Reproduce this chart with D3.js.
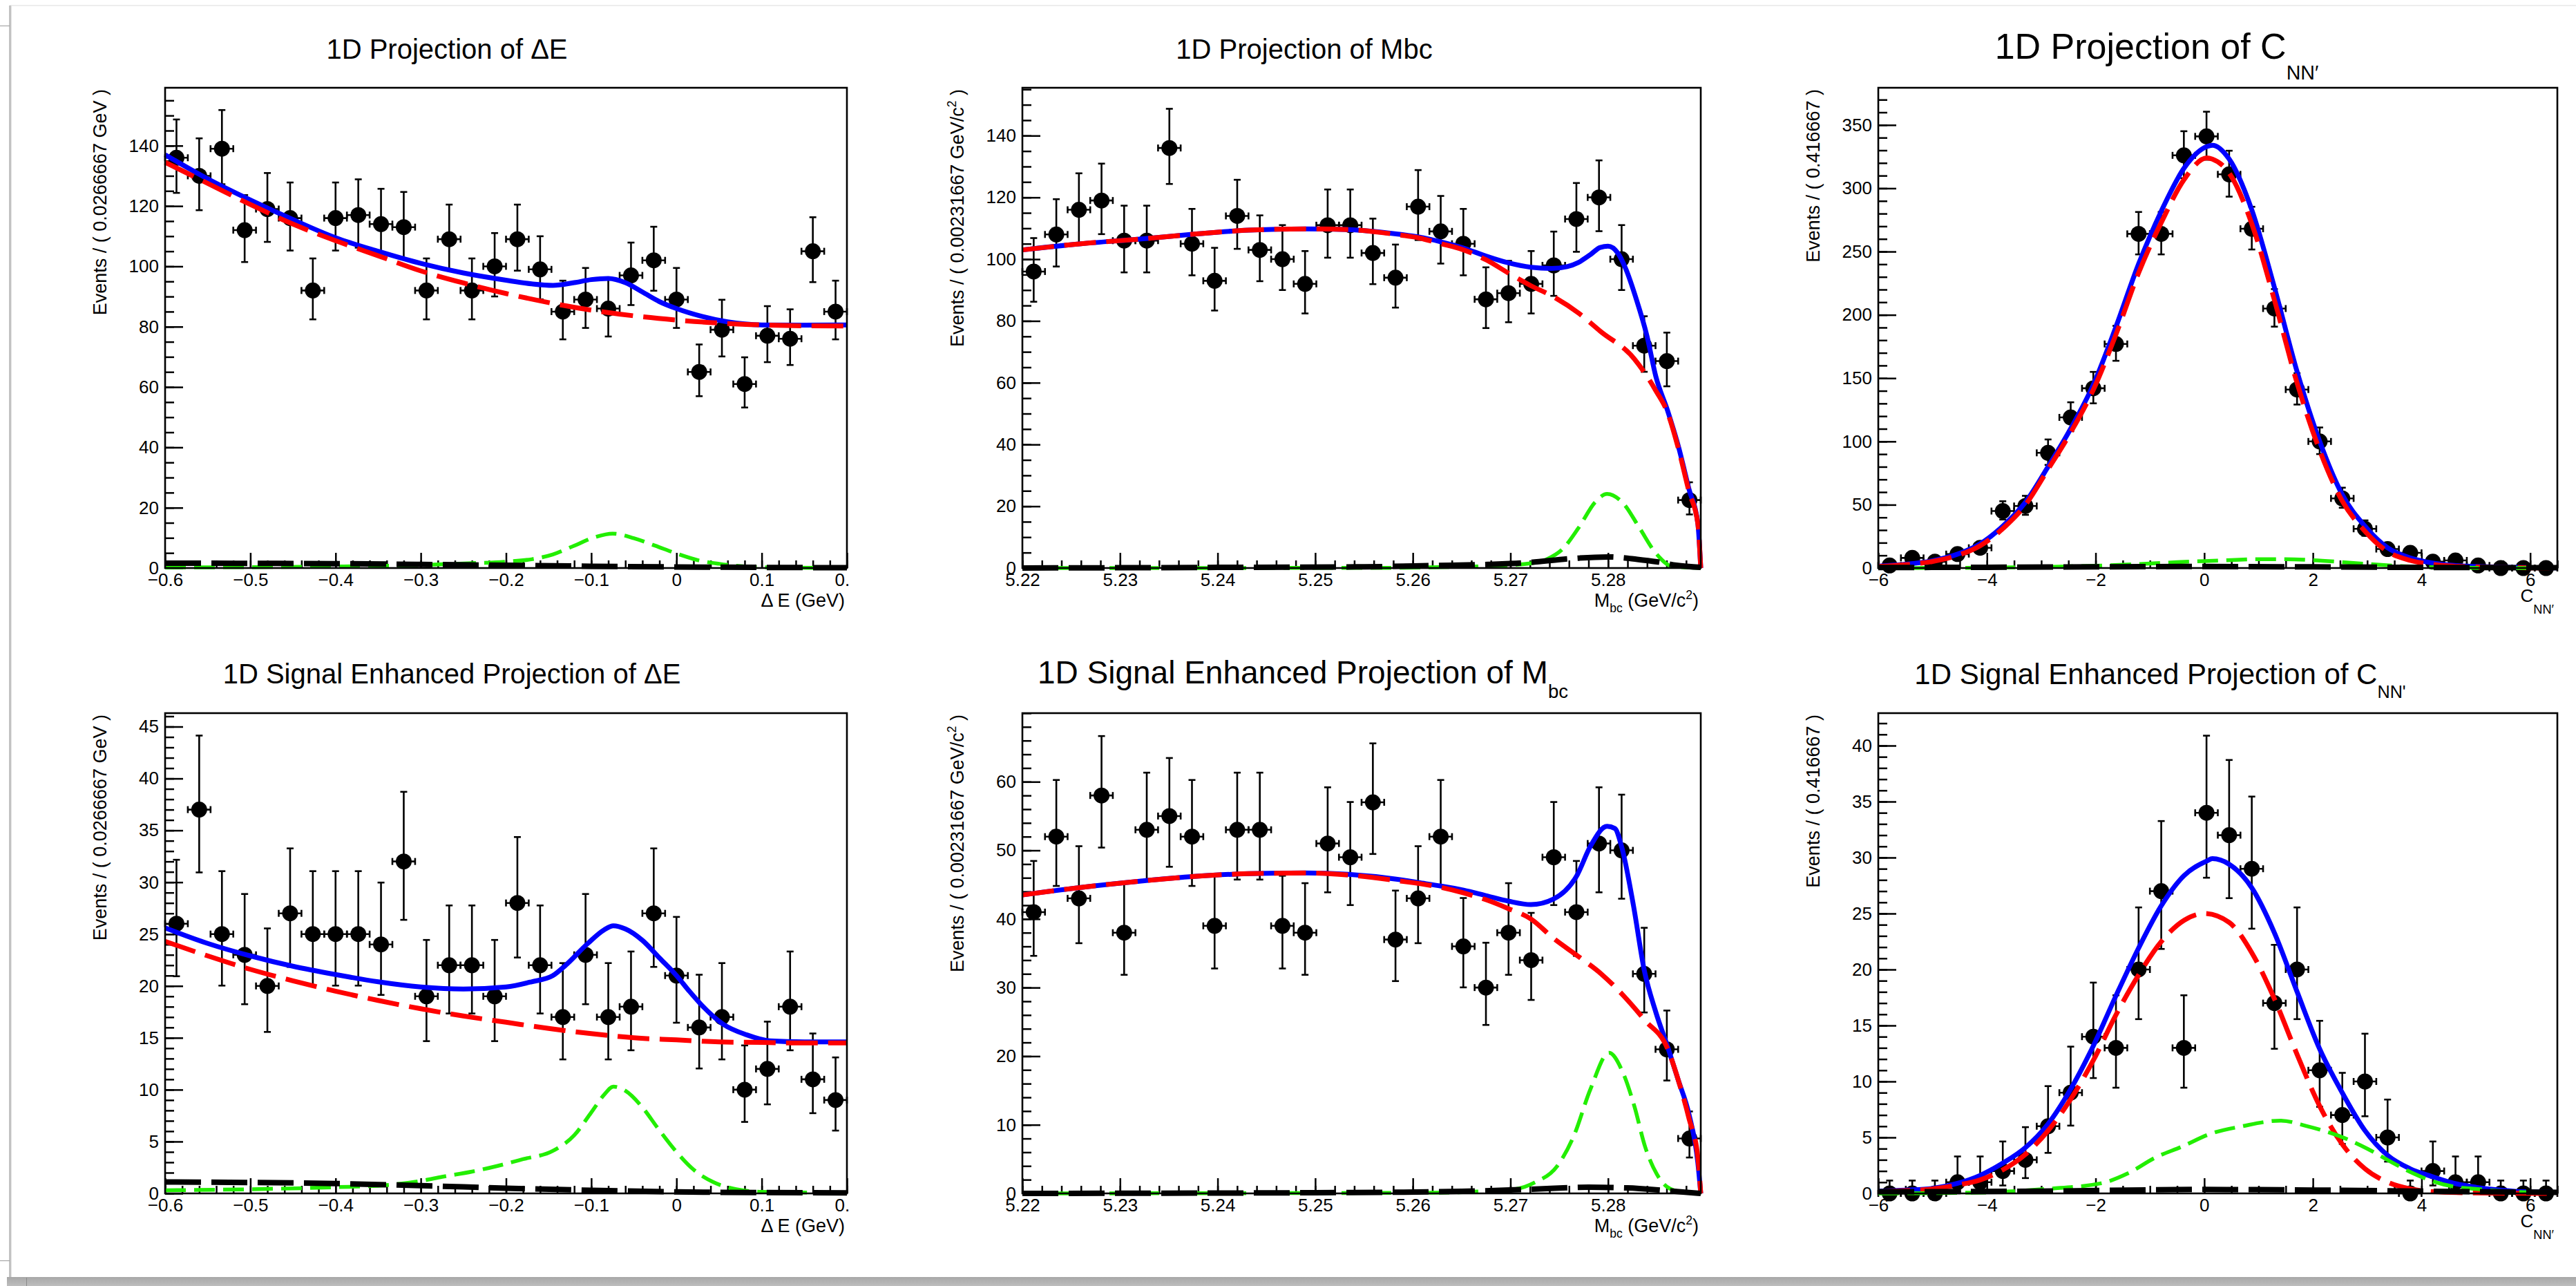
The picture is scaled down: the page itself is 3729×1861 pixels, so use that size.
<!DOCTYPE html>
<html>
<head>
<meta charset="utf-8">
<title>Fit projections: ΔE, Mbc, C_NN'</title>
<script src="https://cdn.jsdelivr.net/npm/d3@7/dist/d3.min.js"></script>
<style>
  html, body { margin: 0; padding: 0; background: #fff; }
  svg { display: block; }
  text { font-family: "Liberation Sans", Arial, Helvetica, sans-serif; fill: #000; white-space: pre; }
</style>
</head>
<body>
<svg id="chart" width="3729" height="1861"></svg>
<script>
// ---------- Binned event counts (30 bins each) ----------
const deCounts     = [136,130,139,112,119,116,92,116,117,114,113,92,109,92,100,109,99,85,89,86,97,102,89,65,79,61,77,76,105,85];
const mbcCounts    = [96,108,116,119,106,106,136,105,93,114,103,100,92,111,111,102,94,117,109,105,87,89,92,98,113,120,100,72,67,22];
const cnnCounts    = [2,8,5,11,16,45,49,91,119,142,177,264,264,326,341,311,268,205,141,100,55,31,15,12,5,6,2,0,0,0];
const deSigCounts  = [26,37,25,23,20,27,25,25,25,24,32,19,22,22,19,28,22,17,23,17,18,27,21,16,17,10,12,18,11,9];
const mbcSigCounts = [41,52,43,58,38,53,55,52,39,53,53,39,38,51,49,57,37,43,52,36,30,38,34,49,41,51,50,32,21,8];
const cnnSigCounts = [0,0,0,1,1,2,3,6,9,14,13,20,27,13,34,32,29,17,20,11,7,10,5,0,2,1,1,0,0,0];

// ---------- Fit curves, [x, events / bin] ----------
// Delta E, full sample
const deTotal = [[-0.6,137],[-0.55,129],[-0.5,122],[-0.45,115.5],[-0.4,109.5],[-0.35,105],[-0.3,101],[-0.25,97.8],[-0.2,95.4],[-0.17,94.2],[-0.145,93.7],[-0.12,94.6],[-0.1,95.6],[-0.08,96],[-0.06,94.6],[-0.04,91.5],[-0.02,88.3],[0,86],[0.03,83.4],[0.06,81.6],[0.08,80.9],[0.1,80.6],[0.15,80.5],[0.2,80.6]];
const deBkg   = [[-0.6,134.5],[-0.55,127.5],[-0.5,120.5],[-0.45,114],[-0.4,108.5],[-0.35,103.5],[-0.3,98.5],[-0.25,94.5],[-0.2,91],[-0.15,88],[-0.1,85.5],[-0.05,83.6],[0,82.2],[0.05,81.2],[0.1,80.6],[0.15,80.3],[0.2,80.2]];
const deSig   = [[-0.6,0.2],[-0.5,0.3],[-0.4,0.5],[-0.3,1.0],[-0.25,1.5],[-0.2,2.1],[-0.17,2.9],[-0.145,4.5],[-0.12,7.4],[-0.095,10.3],[-0.075,11.4],[-0.05,9.9],[-0.025,7.4],[0,4.8],[0.025,2.6],[0.05,1.4],[0.08,0.5],[0.12,0.15],[0.2,0.05]];
const deOther = [[-0.6,1.6],[-0.5,1.55],[-0.4,1.45],[-0.3,1.2],[-0.2,0.9],[-0.1,0.6],[0,0.35],[0.1,0.2],[0.2,0.1]];
// Mbc, full sample
const mbcTotal = [[5.22,103],[5.226,105],[5.232,106.5],[5.2376,108.1],[5.2432,109.4],[5.249,109.8],[5.2534,109.6],[5.2583,108.2],[5.2606,107.2],[5.2629,105.6],[5.2652,103.6],[5.2675,101],[5.2698,98.8],[5.2721,97.4],[5.2742,97],[5.2758,97.6],[5.277,99],[5.2782,101.5],[5.2792,103.8],[5.28,104.2],[5.281,102],[5.2818,97],[5.2829,87],[5.284,75],[5.2849,62],[5.2861,51],[5.2872,39.5],[5.2883,25.5],[5.2892,14.5],[5.2895,0]];
const mbcBkg   = [[5.22,103],[5.226,105],[5.232,106.5],[5.2376,108.1],[5.2432,109.4],[5.249,109.8],[5.2534,109.6],[5.2583,108],[5.2606,106.9],[5.2629,105],[5.2652,103],[5.2675,99.8],[5.2698,95.5],[5.2721,91.4],[5.2742,88.2],[5.277,82.5],[5.2792,76.7],[5.2827,67.7],[5.2849,57.4],[5.2861,50.3],[5.2872,38.8],[5.2883,24.7],[5.2892,14.4],[5.2895,0]];
const mbcSig   = [[5.22,0],[5.255,0.05],[5.265,0.4],[5.2703,1],[5.272,1.5],[5.2737,2.8],[5.2753,6],[5.277,13.1],[5.2787,21.4],[5.2799,24],[5.2816,20.8],[5.2832,13.1],[5.2849,4.8],[5.2866,0.5],[5.2895,0]];
const mbcOther = [[5.22,0],[5.24,0.2],[5.255,0.4],[5.262,0.8],[5.268,1.2],[5.272,1.8],[5.276,3.0],[5.28,3.6],[5.283,2.8],[5.285,2.0],[5.287,0.9],[5.2895,0.2]];
// C_NN', full sample
const cnnTotal = [[-6,1.5],[-5.5,3],[-5,5.8],[-4.54,11],[-4.13,19],[-3.71,33],[-3.29,52],[-2.875,80],[-2.46,110],[-2.04,145],[-1.63,190],[-1.21,240],[-1.0,262],[-0.79,282],[-0.37,316],[0.05,333],[0.15,334],[0.46,323],[0.875,283],[1.29,222],[1.71,155],[2.125,100],[2.54,58],[2.96,33],[3.375,16],[3.79,8],[4.2,4],[4.6,2],[5,1.2],[5.5,0.6],[6,0.3],[6.5,0.2]];
const cnnBkg   = [[-6,1.2],[-5.5,2.6],[-5,5.2],[-4.54,10],[-4.13,17.5],[-3.71,31],[-3.29,50],[-2.875,78],[-2.46,107],[-2.04,141],[-1.63,184],[-1.21,233],[-1.0,254],[-0.79,273],[-0.37,307],[0.05,324],[0.15,323],[0.46,312],[0.875,272],[1.29,212],[1.71,146],[2.125,93],[2.54,53],[2.96,29],[3.375,13],[3.79,6],[4.2,2.8],[4.6,1.4],[5,0.8],[5.5,0.4],[6,0.2],[6.5,0.1]];
const cnnSig   = [[-6,0],[-4,0.3],[-3,0.8],[-2,1.8],[-1.5,2.6],[-1,3.5],[-0.5,4.6],[0,5.5],[0.5,6.3],[1,7],[1.5,7],[2,6.2],[2.5,4.8],[3,3.2],[3.5,1.8],[4,0.9],[4.5,0.4],[5,0.2],[6.5,0]];
const cnnOther = [[-6,0.4],[-4,0.6],[-2,0.9],[0,1.2],[2,0.9],[4,0.5],[6.5,0.3]];
// Delta E, signal-enhanced
const deSigTotal = [[-0.6,25.6],[-0.55,24.1],[-0.5,22.9],[-0.45,21.9],[-0.4,21.1],[-0.35,20.4],[-0.3,19.9],[-0.25,19.7],[-0.2,19.9],[-0.17,20.4],[-0.145,21.0],[-0.13,22],[-0.104,24.1],[-0.085,25.4],[-0.074,25.8],[-0.06,25.5],[-0.04,24.4],[-0.02,22.7],[0,21],[0.015,19.5],[0.029,18.2],[0.055,16.3],[0.082,15.3],[0.11,14.7],[0.15,14.6],[0.2,14.6]];
const deSigBkg   = [[-0.6,24.3],[-0.55,22.9],[-0.5,21.6],[-0.45,20.5],[-0.4,19.5],[-0.35,18.6],[-0.3,17.8],[-0.25,17.1],[-0.2,16.5],[-0.15,15.9],[-0.1,15.4],[-0.05,15.0],[0,14.8],[0.05,14.6],[0.1,14.55],[0.15,14.5],[0.2,14.5]];
const deSigSig   = [[-0.6,0.3],[-0.5,0.4],[-0.4,0.6],[-0.34,0.8],[-0.3,1.2],[-0.275,1.6],[-0.24,2.1],[-0.21,2.65],[-0.18,3.3],[-0.145,4.1],[-0.12,5.6],[-0.1,7.8],[-0.085,9.5],[-0.074,10.3],[-0.06,9.9],[-0.04,8.3],[-0.022,6.3],[0,4.0],[0.02,2.3],[0.043,1.1],[0.07,0.4],[0.1,0.15],[0.2,0.05]];
const deSigOther = [[-0.6,1.1],[-0.5,1.05],[-0.4,0.95],[-0.3,0.75],[-0.2,0.5],[-0.1,0.3],[0,0.15],[0.1,0.08],[0.2,0.05]];
// Mbc, signal-enhanced
const mbcSigTotal = [[5.22,43.5],[5.226,44.6],[5.232,45.5],[5.2376,46.2],[5.2432,46.6],[5.249,46.7],[5.2534,46.5],[5.2583,45.8],[5.2606,45.3],[5.2629,44.8],[5.2652,44.2],[5.2675,43.4],[5.2698,42.6],[5.2721,42.1],[5.2744,42.9],[5.2768,46.3],[5.2782,50.6],[5.2799,53.5],[5.2807,53.2],[5.2814,50.5],[5.2826,42],[5.2837,32.6],[5.2849,26.4],[5.2861,21.4],[5.2872,16.5],[5.2883,11.5],[5.2892,4.5],[5.2895,0]];
const mbcSigBkg   = [[5.22,43.5],[5.226,44.6],[5.232,45.5],[5.2376,46.2],[5.2432,46.6],[5.249,46.7],[5.2534,46.4],[5.2583,45.6],[5.2629,44.6],[5.2652,43.8],[5.2675,42.8],[5.2698,41.5],[5.2721,40],[5.2744,37.2],[5.277,34.5],[5.2793,32],[5.2816,28.8],[5.2838,25.2],[5.2861,21.1],[5.2872,16.5],[5.2883,10.9],[5.2892,5.3],[5.2895,0]];
const mbcSigSig   = [[5.22,0],[5.262,0.1],[5.2703,0.6],[5.2725,1.6],[5.2748,4],[5.2765,8.4],[5.2782,15.2],[5.2801,20.5],[5.2815,17.7],[5.2827,12.7],[5.2838,6.8],[5.285,2.8],[5.2861,0.9],[5.2875,0.2],[5.2895,0]];
const mbcSigOther = [[5.22,0],[5.25,0.1],[5.265,0.3],[5.272,0.6],[5.278,0.9],[5.282,0.8],[5.286,0.4],[5.2895,0]];
// C_NN', signal-enhanced
const cnnSigTotal = [[-6,0.2],[-5.5,0.3],[-5,0.45],[-4.54,0.9],[-4.13,1.6],[-3.71,2.7],[-3.29,4.1],[-2.875,6.2],[-2.46,9.3],[-2.04,13.2],[-1.63,17.6],[-1.21,21.9],[-0.79,25.7],[-0.37,28.4],[0.05,29.7],[0.15,29.9],[0.46,29.4],[0.875,27.3],[1.29,23.3],[1.71,18],[2.125,12.9],[2.54,9],[2.96,5.6],[3.375,3.4],[3.79,2.2],[4.2,1.5],[4.6,0.9],[5,0.55],[5.46,0.3],[5.875,0.15],[6.5,0.1]];
const cnnSigBkg   = [[-6,0.15],[-5.5,0.25],[-5,0.4],[-4.54,0.75],[-4.13,1.2],[-3.71,2.1],[-3.29,3.5],[-2.875,5.6],[-2.46,8.4],[-2.04,11.9],[-1.63,15.9],[-1.21,19.5],[-0.79,22.5],[-0.37,24.4],[0,25],[0.46,24.2],[0.875,21.5],[1.29,17.4],[1.71,12.4],[2.125,7.8],[2.54,4.4],[2.96,2.2],[3.375,1.0],[3.79,0.4],[4.2,0.15],[5,0.05],[6.5,0]];
const cnnSigSig   = [[-6,0],[-4.5,0.05],[-3.9,0.1],[-2.9,0.4],[-1.9,0.9],[-1.4,1.8],[-0.9,3.2],[-0.4,4.2],[0.1,5.3],[0.7,6],[1.4,6.5],[1.9,6],[2.5,5.1],[3.0,4],[3.37,3],[3.8,1.9],[4.2,1.1],[4.6,0.6],[5.0,0.4],[5.5,0.2],[6.5,0.05]];
const cnnSigOther = [[-6,0.15],[-3,0.2],[0,0.35],[2,0.3],[4,0.2],[6.5,0.1]];

// ---------- Axis ticks ----------
const deTicks   = [-0.6,-0.5,-0.4,-0.3,-0.2,-0.1,0,0.1,0.2];
const mbcTicks  = [5.22,5.23,5.24,5.25,5.26,5.27,5.28];
const cnnTicks  = [-6,-4,-2,0,2,4,6];
const deYTicks     = [0,20,40,60,80,100,120,140];
const mbcYTicks    = [0,20,40,60,80,100,120,140];
const cnnYTicks    = [0,50,100,150,200,250,300,350];
const deSigYTicks  = [0,5,10,15,20,25,30,35,40,45];
const mbcSigYTicks = [0,10,20,30,40,50,60];
const cnnSigYTicks = [0,5,10,15,20,25,30,35,40];

// ---------- Styles ----------
const STYLE = {
  total: { stroke: "#0000ff", width: 7, dash: null },
  bkg:   { stroke: "#ff0000", width: 7, dash: "46,15" },
  sig:   { stroke: "#22ee00", width: 5.5, dash: "30,12" },
  other: { stroke: "#000000", width: 8, dash: "52,15" }
};
const FONT_TICK = 26, FONT_AXIS = 27;

const minus = s => s.replace("-", "\u2212");
const fmtDE  = v => v === 0 ? "0" : minus(d3.format(".1f")(v));
const fmtMbc = v => d3.format(".2f")(v);
const fmtCnn = v => minus(d3.format("d")(v));

const titleDE  = [["1D Projection of \u0394E"]];
const titleMbc = [["1D Projection of Mbc"]];
const titleCnn = [["1D Projection of C"], ["NN\u2032", 0.58, 0.55]];
const titleDESig  = [["1D Signal Enhanced Projection of \u0394E"]];
const titleMbcSig = [["1D Signal Enhanced Projection of M"], ["bc", 0.46, 0.6]];
const titleCnnSig = [["1D Signal Enhanced Projection of C"], ["NN'", 0.47, 0.6]];
const yTitleDE  = [["Events / ( 0.0266667 GeV )"]];
const yTitleMbc = [["Events / ( 0.00231667 GeV/c"], ["2", -0.4, 0.65], [" )", 0, 1]];
const yTitleCnn = [["Events / ( 0.416667 )"]];
const xTitleDE  = [["\u0394 E (GeV)"]];
const xTitleMbc = [["M"], ["bc", 0.3, 0.65], [" (GeV/c", 0, 1], ["2", -0.4, 0.65], [")", 0, 1]];
const xTitleCnn = [["C"], ["NN\u2032", 0.66, 0.7]];

const panels = [
  { frame: [239, 127, 1226, 822], xDomain: [-0.6, 0.2], yMax: 159.2, counts: deCounts,
    curves: [deTotal, deBkg, deSig, deOther], xTicks: deTicks, xMinor: 0.02, xFmt: fmtDE,
    yTicks: deYTicks, yMinor: 5, title: titleDE, titleAt: [647, 85], titleSize: 40,
    yTitle: yTitleDE, xTitle: xTitleDE, clipLabels: true },
  { frame: [1480, 127, 2462, 822], xDomain: [5.22, 5.2895], yMax: 155.5, counts: mbcCounts,
    curves: [mbcTotal, mbcBkg, mbcSig, mbcOther], xTicks: mbcTicks, xMinor: 0.002, xFmt: fmtMbc,
    yTicks: mbcYTicks, yMinor: 5, title: titleMbc, titleAt: [1888, 85], titleSize: 40,
    yTitle: yTitleMbc, xTitle: xTitleMbc },
  { frame: [2719, 127, 3702, 822], xDomain: [-6, 6.5], yMax: 379.4, counts: cnnCounts,
    curves: [cnnTotal, cnnBkg, cnnSig, cnnOther], xTicks: cnnTicks, xMinor: 0.5, xFmt: fmtCnn,
    yTicks: cnnYTicks, yMinor: 10, title: titleCnn, titleAt: [3122, 85], titleSize: 52,
    yTitle: yTitleCnn, xTitle: xTitleCnn, cnnTitle: true },
  { frame: [239, 1032, 1226, 1727], xDomain: [-0.6, 0.2], yMax: 46.3, counts: deSigCounts,
    curves: [deSigTotal, deSigBkg, deSigSig, deSigOther], xTicks: deTicks, xMinor: 0.02, xFmt: fmtDE,
    yTicks: deSigYTicks, yMinor: 1, title: titleDESig, titleAt: [654, 989], titleSize: 40,
    yTitle: yTitleDE, xTitle: xTitleDE, clipLabels: true },
  { frame: [1480, 1032, 2462, 1727], xDomain: [5.22, 5.2895], yMax: 70, counts: mbcSigCounts,
    curves: [mbcSigTotal, mbcSigBkg, mbcSigSig, mbcSigOther], xTicks: mbcTicks, xMinor: 0.002, xFmt: fmtMbc,
    yTicks: mbcSigYTicks, yMinor: 2, title: titleMbcSig, titleAt: [1886, 989], titleSize: 46,
    yTitle: yTitleMbc, xTitle: xTitleMbc },
  { frame: [2719, 1032, 3702, 1727], xDomain: [-6, 6.5], yMax: 42.9, counts: cnnSigCounts,
    curves: [cnnSigTotal, cnnSigBkg, cnnSigSig, cnnSigOther], xTicks: cnnTicks, xMinor: 0.5, xFmt: fmtCnn,
    yTicks: cnnSigYTicks, yMinor: 1, title: titleCnnSig, titleAt: [3127, 990], titleSize: 42,
    yTitle: yTitleCnn, xTitle: xTitleCnn, cnnTitle: true }
];

// ---------- Poisson 68% intervals for the data error bars ----------
const LOGF = [0];
for (let k = 1; k <= 800; k++) LOGF[k] = LOGF[k - 1] + Math.log(k);
function poissonCdf(n, mu) {
  if (n < 0) return 0;
  const lm = Math.log(mu);
  let s = 0;
  for (let k = 0; k <= n; k++) s += Math.exp(-mu + k * lm - LOGF[k]);
  return Math.min(1, s);
}
function poissonBand(n) {
  const cl = 0.682689492;
  if (n === 0) return [0, -Math.log(1 - cl)];
  const a = (1 - cl) / 2;
  let l = 1e-9, h = n;
  for (let i = 0; i < 60; i++) { const m = (l + h) / 2; if (1 - poissonCdf(n - 1, m) < a) l = m; else h = m; }
  const lo = (l + h) / 2;
  l = n; h = n + 10 * Math.sqrt(n) + 10;
  for (let i = 0; i < 60; i++) { const m = (l + h) / 2; if (poissonCdf(n, m) > a) l = m; else h = m; }
  return [lo, (l + h) / 2];
}

// ---------- Drawing ----------
const svg = d3.select("#chart");
const defs = svg.append("defs");

function richText(parent, x, y, fs, anchor, parts, rotate) {
  const t = parent.append("text").attr("x", x).attr("y", y)
    .attr("font-size", fs).attr("text-anchor", anchor);
  if (rotate) t.attr("transform", `rotate(${rotate},${x},${y})`);
  let cur = 0;
  parts.forEach(([s, shift = 0, scale = 1]) => {
    const span = t.append("tspan").text(s).attr("font-size", fs * scale);
    const dy = (shift - cur) * fs;
    if (dy) span.attr("dy", dy);
    cur = shift;
  });
  return t;
}

function stepValues(lo, hi, step) {
  const n = Math.floor((hi - lo) / step + 1e-6);
  return d3.range(n + 1).map(i => +(lo + i * step).toFixed(6));
}

// page edge shading
const band = defs.append("linearGradient").attr("id", "band").attr("x1", 0).attr("y1", 0).attr("x2", 0).attr("y2", 1);
band.append("stop").attr("offset", 0).attr("stop-color", "#a8a8a8");
band.append("stop").attr("offset", 1).attr("stop-color", "#bdbdbd");
svg.append("rect").attr("x", 14).attr("y", 7).attr("width", 3715).attr("height", 2).attr("fill", "#ededed");
svg.append("rect").attr("x", 13).attr("y", 8).attr("width", 3).attr("height", 1840).attr("fill", "#c2c2c2");
svg.append("rect").attr("x", 16).attr("y", 8).attr("width", 1).attr("height", 1840).attr("fill", "#e6e6e6");
svg.append("rect").attr("x", 10).attr("y", 1848).attr("width", 3719).attr("height", 13).attr("fill", "url(#band)");
svg.append("rect").attr("x", 0).attr("y", 37).attr("width", 14).attr("height", 1).attr("fill", "#9a9a9a");
svg.append("rect").attr("x", 0).attr("y", 1824).attr("width", 14).attr("height", 1).attr("fill", "#9a9a9a");
svg.append("rect").attr("x", 38).attr("y", 1849).attr("width", 1).attr("height", 12).attr("fill", "#8a8a8a");

panels.forEach((p, idx) => {
  const [x0, y0, x1, y1] = p.frame;
  const g = svg.append("g").attr("class", "panel");
  const x = d3.scaleLinear().domain(p.xDomain).range([x0, x1]);
  const y = d3.scaleLinear().domain([0, p.yMax]).range([y1, y0]);

  // axes (ticks pointing into the frame)
  const clipId = "lbl" + idx;
  defs.append("clipPath").attr("id", clipId).append("rect")
    .attr("x", x0 - 120).attr("y", y1 - 40).attr("width", x1 - x0 + 123).attr("height", 120);

  const xMinorAxis = d3.axisBottom(x).tickValues(stepValues(p.xDomain[0], p.xDomain[1], p.xMinor))
    .tickFormat("").tickSizeInner(-11).tickSizeOuter(0);
  const xMajorAxis = d3.axisBottom(x).tickValues(p.xTicks).tickFormat(p.xFmt)
    .tickSizeInner(-22).tickSizeOuter(0).tickPadding(8);
  const yMinorAxis = d3.axisLeft(y).tickValues(stepValues(0, p.yMax, p.yMinor))
    .tickFormat("").tickSizeInner(-13).tickSizeOuter(0);
  const yMajorAxis = d3.axisLeft(y).tickValues(p.yTicks).tickFormat(d3.format("d"))
    .tickSizeInner(-26).tickSizeOuter(0).tickPadding(9);

  const gx = g.append("g").attr("transform", `translate(0,${y1})`);
  gx.append("g").call(xMinorAxis);
  gx.append("g").call(xMajorAxis);
  const gy = g.append("g").attr("transform", `translate(${x0},0)`);
  gy.append("g").call(yMinorAxis);
  gy.append("g").call(yMajorAxis);
  g.selectAll(".domain").remove();
  g.selectAll(".tick line").attr("stroke", "#000").attr("stroke-width", 2.5);
  g.selectAll(".tick text").attr("font-size", FONT_TICK)
    .attr("font-family", "'Liberation Sans', Arial, Helvetica, sans-serif").attr("fill", "#000");
  g.selectAll("g").attr("font-size", null).attr("font-family", null);

  // the last delta-E label runs past the pad edge and is cut there
  if (p.clipLabels) {
    const wrap = g.append("g").attr("clip-path", `url(#${clipId})`);
    wrap.node().appendChild(gx.node());
  }

  // data points with Poisson error bars
  const nb = p.counts.length;
  const bw = (p.xDomain[1] - p.xDomain[0]) / nb;
  const pts = p.counts.map((n, i) => {
    const cx = p.xDomain[0] + (i + 0.5) * bw;
    const [lo, hi] = poissonBand(n);
    return { cx, n, lo, hi };
  });
  const gd = g.append("g").attr("stroke", "#000").attr("stroke-width", 2.6).attr("fill", "none");
  pts.forEach(d => {
    const px = x(d.cx), py = y(d.n);
    const xl = x(d.cx - bw / 2), xr = x(d.cx + bw / 2);
    gd.append("line").attr("x1", px).attr("x2", px).attr("y1", y(d.lo)).attr("y2", y(d.hi));
    gd.append("line").attr("x1", px - 5).attr("x2", px + 5).attr("y1", y(d.hi)).attr("y2", y(d.hi));
    gd.append("line").attr("x1", px - 5).attr("x2", px + 5).attr("y1", y(d.lo)).attr("y2", y(d.lo));
    gd.append("line").attr("x1", xl).attr("x2", xr).attr("y1", py).attr("y2", py);
    gd.append("line").attr("x1", xl).attr("x2", xl).attr("y1", py - 5).attr("y2", py + 5);
    gd.append("line").attr("x1", xr).attr("x2", xr).attr("y1", py - 5).attr("y2", py + 5);
  });
  g.append("g").selectAll("circle").data(pts).join("circle")
    .attr("cx", d => x(d.cx)).attr("cy", d => y(d.n)).attr("r", 11.5).attr("fill", "#000");

  // fit curves: total, background, signal, other
  const line = d3.line().x(d => x(d[0])).y(d => y(d[1])).curve(d3.curveMonotoneX);
  ["total", "bkg", "sig", "other"].forEach((k, j) => {
    const s = STYLE[k];
    const path = g.append("path").datum(p.curves[j]).attr("d", line)
      .attr("fill", "none").attr("stroke", s.stroke).attr("stroke-width", s.width)
      .attr("stroke-linejoin", "round");
    if (s.dash) path.attr("stroke-dasharray", s.dash);
  });

  // frame
  g.append("rect").attr("x", x0).attr("y", y0).attr("width", x1 - x0).attr("height", y1 - y0)
    .attr("fill", "none").attr("stroke", "#000").attr("stroke-width", 2.6);

  // titles
  richText(g, p.titleAt[0], p.titleAt[1], p.titleSize, "middle", p.title);
  const ytx = x0 - 95 + 0.36 * FONT_AXIS;
  richText(g, ytx, y0 + 2, FONT_AXIS, "end", p.yTitle, -90);
  if (p.cnnTitle) {
    richText(g, x1 - 5, y1 + 49, 26, "end", p.xTitle);
  } else {
    richText(g, x1 - 3, y1 + 56, FONT_AXIS, "end", p.xTitle);
  }
});
</script>
</body>
</html>
